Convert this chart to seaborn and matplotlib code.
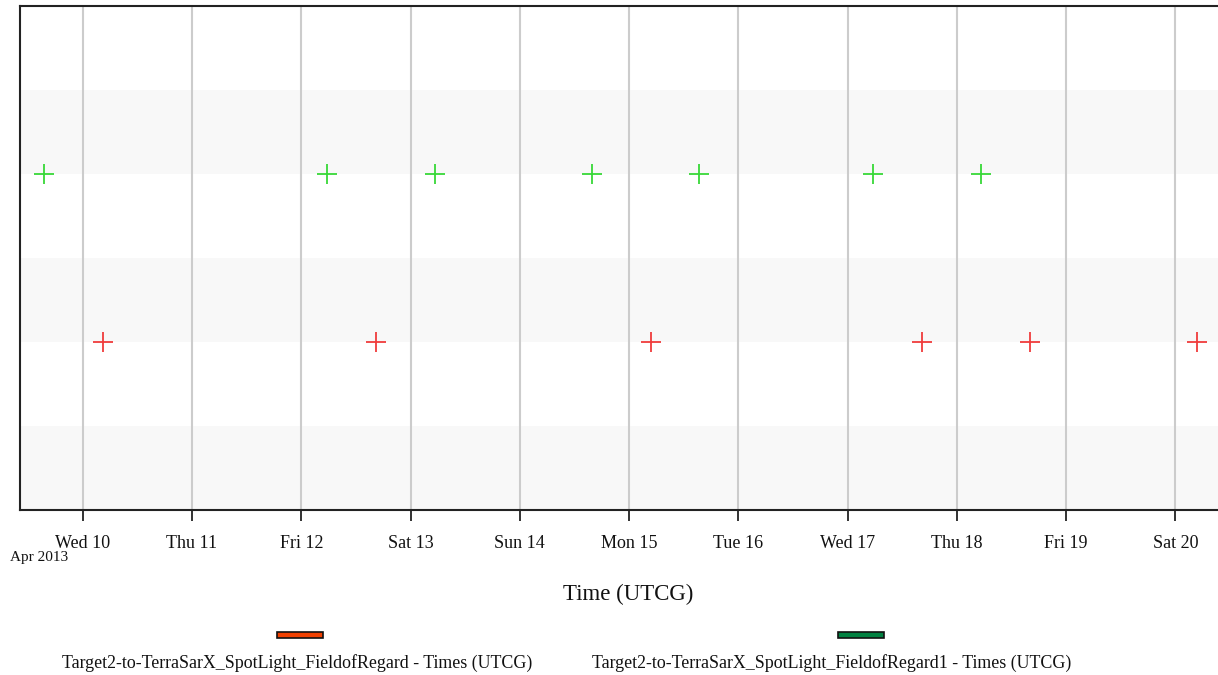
import matplotlib
matplotlib.use("Agg")
import matplotlib.pyplot as plt
import matplotlib.dates as mdates
from matplotlib.patches import Rectangle
import seaborn as sns
import pandas as pd

# ---- data ----
series_names = [
    "Target2-to-TerraSarX_SpotLight_FieldofRegard - Times (UTCG)",
    "Target2-to-TerraSarX_SpotLight_FieldofRegard1 - Times (UTCG)",
]
red_times = ["2013-04-10 04:31", "2013-04-12 16:25", "2013-04-15 04:46",
             "2013-04-17 16:22", "2013-04-18 16:05", "2013-04-20 04:42"]
green_times = ["2013-04-09 15:34", "2013-04-12 05:40", "2013-04-13 05:23",
               "2013-04-14 15:52", "2013-04-15 15:26", "2013-04-17 05:40",
               "2013-04-18 05:19"]
red_row = 2
green_row = 4
x_start = "2013-04-09 10:13"
x_end = "2013-04-20 09:23"
marker_colors = {"red": "#f03c3c", "green": "#38d838"}
legend_colors = ["#f04000", "#008040"]

df = pd.DataFrame({
    "time": pd.to_datetime(red_times + green_times),
    "row": [red_row] * len(red_times) + [green_row] * len(green_times),
    "series": ["red"] * len(red_times) + ["green"] * len(green_times),
})

sns.set_theme(style="white")
plt.rcParams["font.family"] = ["Liberation Serif", "DejaVu Serif"]

fig = plt.figure(figsize=(12.18, 6.75), dpi=100)
W, H = 1218, 675
ax = fig.add_axes([20 / W, 1 - 510 / H, 1 - 20 / W, (510 - 6) / H])

# alternating bands
for i in range(6):
    if i % 2 == 0:
        ax.axhspan(i, i + 1, color="#f8f8f8", zorder=0, lw=0)

sns.scatterplot(data=df, x="time", y="row", hue="series", palette=marker_colors,
                marker="+", s=210, linewidth=1.3, legend=False, ax=ax, zorder=3)

ax.set_xlim(pd.Timestamp(x_start), pd.Timestamp(x_end))
ax.set_ylim(0, 6)
ax.set_yticks([])
ax.set_ylabel("")
ax.set_xlabel("")
ax.xaxis.set_major_locator(mdates.DayLocator())
ax.xaxis.set_major_formatter(mdates.DateFormatter("%a %d"))
ax.grid(axis="x", color="#cccccc", lw=1.5, zorder=1)
ax.set_axisbelow(True)
ax.tick_params(axis="x", direction="out", length=8, width=1.3, color="#222222",
               labelsize=13, pad=10, labelcolor="#111111", bottom=True)
for s in ["left", "top", "bottom"]:
    ax.spines[s].set_color("#222222")
    ax.spines[s].set_linewidth(1.5)
ax.spines["right"].set_visible(False)

fig.text(10 / W, 1 - 557 / H, "Apr 2013", fontsize=11, ha="left", va="center", color="#111111")
fig.text(628 / W, 1 - 594 / H, "Time (UTCG)", fontsize=16.5, ha="center", va="center", color="#111111")

# legend
label_x = [297 / W, 832 / W]
patch_x = [277 / W, 838 / W]
for i, name in enumerate(series_names):
    fig.patches.append(Rectangle((patch_x[i], 1 - 638 / H), 46 / W, 6 / H,
                                 transform=fig.transFigure, facecolor=legend_colors[i],
                                 edgecolor="#111111", lw=1.2))
    fig.text(label_x[i], 1 - 663 / H, name, fontsize=12.9, ha="center", va="center", color="#111111")

fig.savefig("out.png", dpi=100)
